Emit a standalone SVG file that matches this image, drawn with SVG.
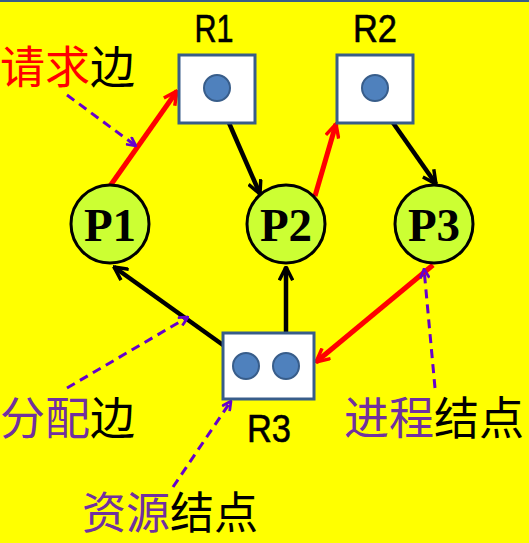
<svg xmlns="http://www.w3.org/2000/svg" width="529" height="543" viewBox="0 0 529 543">
<style>
.res{fill:#fff;stroke:#385D8A;stroke-width:3}
.dot{fill:#4F81BD;stroke:#385D8A;stroke-width:2}
.proc{fill:#CCFF33;stroke:#000;stroke-width:3}
.plab{font-family:"Liberation Serif",serif;font-weight:bold;font-size:47px;fill:#000;text-anchor:middle}
.rlab{font-family:"Liberation Sans",sans-serif;font-size:38px;fill:#000;stroke:#000;stroke-width:0.6;text-anchor:middle}
.cn{font-family:"Noto Sans CJK SC",sans-serif;font-size:45px;fill:#000}
.pu{fill:#7030A0}
.rd{fill:#FF0000}
.req{stroke:#FF0000;stroke-width:5;fill:none;marker-end:url(#ar)}
.asg{stroke:#000;stroke-width:4.5;fill:none;marker-end:url(#ak)}
.note{stroke:#6600CC;stroke-width:3;stroke-dasharray:9 6;fill:none;marker-end:url(#ap)}
</style>
<defs>
<marker id="ar" viewBox="0 0 12 12" refX="11" refY="6" markerWidth="16" markerHeight="16" markerUnits="userSpaceOnUse" orient="auto"><path d="M1,1 L11,6 L1,11" fill="none" stroke="#FF0000" stroke-width="2.6"/></marker>
<marker id="ak" viewBox="0 0 12 12" refX="11" refY="6" markerWidth="16" markerHeight="16" markerUnits="userSpaceOnUse" orient="auto"><path d="M1,1 L11,6 L1,11" fill="none" stroke="#000" stroke-width="2.6"/></marker>
<marker id="ap" viewBox="0 0 12 12" refX="11" refY="6" markerWidth="11" markerHeight="11" markerUnits="userSpaceOnUse" orient="auto"><path d="M1,1 L11,6 L1,11" fill="none" stroke="#6600CC" stroke-width="3"/></marker>
</defs>
<rect x="0" y="0" width="529" height="543" fill="#FFFF00"/>
<rect x="0" y="0" width="529" height="2" fill="#385D8A"/>

<g id="connectors">
<line class="req" x1="110" y1="186" x2="177" y2="91"/>
<line class="asg" x1="219" y1="100" x2="260" y2="194"/>
<line class="req" x1="315" y1="196" x2="336" y2="124"/>
<line class="asg" x1="377" y1="100" x2="436" y2="184"/>
<line class="asg" x1="237" y1="355" x2="114" y2="267"/>
<line class="asg" x1="286" y1="354" x2="286" y2="267"/>
<line class="req" x1="433" y1="265" x2="316" y2="362"/>
<line class="note" x1="67" y1="95" x2="136" y2="146"/>
<line class="note" x1="67" y1="388" x2="188" y2="317"/>
<line class="note" x1="173" y1="487" x2="231" y2="401"/>
<line class="note" x1="435" y1="388" x2="424" y2="269"/>
</g>

<g id="R1">
<rect class="res" x="179" y="55" width="76" height="68"/>
<circle class="dot" cx="217" cy="88" r="13"/>
<text class="rlab" x="214" y="42" textLength="39" lengthAdjust="spacingAndGlyphs">R1</text>
</g>
<g id="R2">
<rect class="res" x="337" y="55" width="76" height="68"/>
<circle class="dot" cx="375" cy="88" r="13"/>
<text class="rlab" x="375" y="42" textLength="44" lengthAdjust="spacingAndGlyphs">R2</text>
</g>
<g id="R3">
<rect class="res" x="223" y="333" width="91" height="66"/>
<circle class="dot" cx="246" cy="366" r="13"/>
<circle class="dot" cx="286" cy="366" r="13"/>
<text class="rlab" x="269" y="442" textLength="44" lengthAdjust="spacingAndGlyphs">R3</text>
</g>
<g id="P1">
<circle class="proc" cx="110" cy="224" r="39"/>
<text class="plab" x="110" y="241">P1</text>
</g>
<g id="P2">
<circle class="proc" cx="286" cy="224" r="39"/>
<text class="plab" x="286" y="241">P2</text>
</g>
<g id="P3">
<circle class="proc" cx="434" cy="224" r="39"/>
<text class="plab" x="434" y="241">P3</text>
</g>

<g id="labels">
<text class="cn" x="0" y="84"><tspan class="rd">请求</tspan>边</text>
<text class="cn" x="0" y="435"><tspan class="pu">分配</tspan>边</text>
<text class="cn" x="344" y="435"><tspan class="pu">进程</tspan>结点</text>
<text class="cn" x="82" y="529" style="font-size:44px"><tspan class="pu">资源</tspan>结点</text>
</g>
</svg>
